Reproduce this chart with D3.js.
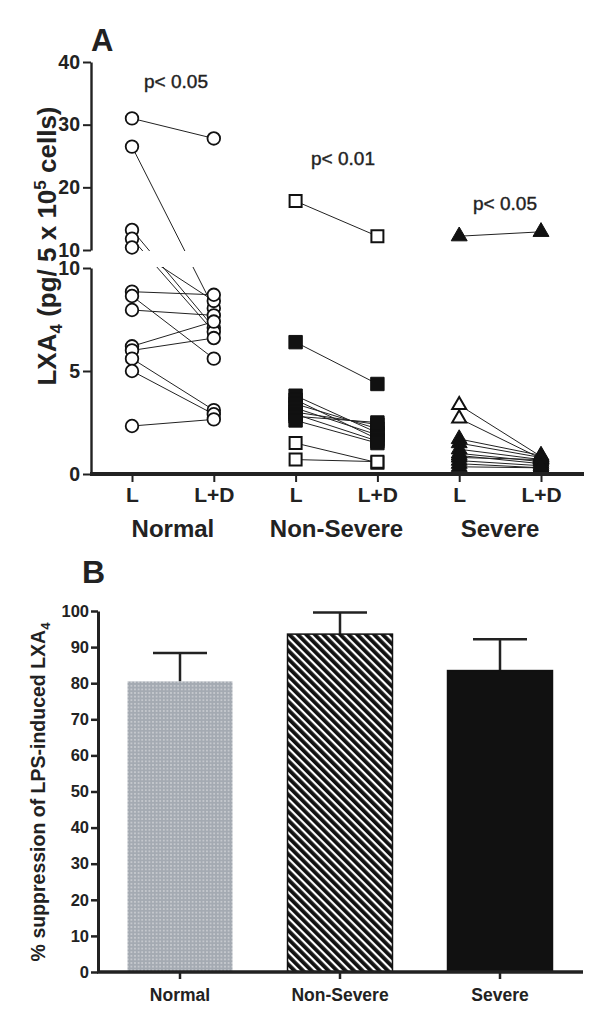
<!DOCTYPE html>
<html><head><meta charset="utf-8">
<script src="https://cdn.jsdelivr.net/npm/d3@7"></script>
<style>
html,body{margin:0;padding:0;background:#fff;}
svg{display:block;font-family:"Liberation Sans",Arial,sans-serif;}
</style></head>
<body>
<svg id="c" width="600" height="1017"></svg>
<script>
// ---------- DATA ----------
const groups = ["Normal", "Non-Severe", "Severe"];
const conditions = ["L", "L+D"];
const pValues = ["p< 0.05", "p< 0.01", "p< 0.05"];
const yTicksUpper = [10, 20, 30, 40];
const yTicksLower = [0, 5, 10];
// paired values (index i of L pairs with index i of L+D)
const normalL  = [31, 26.5, 13.2, 11.8, 10.4, 8.85, 8.64, 7.96, 6.2, 6.0, 5.6, 5.0, 2.33];
const normalLD = [27.8, 8.05, 7.1, 6.9, 8.4, 8.7, 5.6, 7.7, 7.4, 6.6, 3.1, 2.9, 2.65];
const nonSevereOpenL  = [17.8, 1.5, 0.7];
const nonSevereOpenLD = [12.2, 0.55, 0.6];
const nonSevereFilledL  = [6.4, 3.8, 3.6, 3.4, 3.2, 3.0, 2.9, 2.8, 2.6];
const nonSevereFilledLD = [4.37, 2.0, 1.7, 2.2, 1.9, 2.4, 1.6, 2.5, 1.5];
const severeOpenL  = [3.35, 2.7];
const severeOpenLD = [0.85, 0.75];
const severeFilledL  = [12.2, 1.7, 1.5, 1.2, 1.0, 0.9, 0.8, 0.65, 0.5, 0.35];
const severeFilledLD = [12.9, 0.9, 0.8, 0.7, 0.6, 0.5, 0.7, 0.4, 0.3, 0.3];
// panel B
const barMeans = [80.5, 93.6, 83.5];
const barUpper = [88.4, 99.6, 92.2];
const yTicksB = [0, 10, 20, 30, 40, 50, 60, 70, 80, 90, 100];

const svg = d3.select("#c");
const FONT = "Liberation Sans, Arial, sans-serif";

// ---------- PANEL A ----------
const slots = [];
groups.forEach(g => conditions.forEach(c => slots.push(g + "|" + c)));
const xA = d3.scalePoint().domain(slots).range([132, 541]);
const yUp = d3.scaleLinear().domain([10, 40]).range([250, 62]);
const yLo = d3.scaleLinear().domain([0, 10]).range([474, 268]);
const yA = v => v > 10 ? yUp(v) : yLo(v);

const gA = svg.append("g");

const series = [
  {g: "Normal", L: normalL, LD: normalLD, shape: "circle", fill: "#fff"},
  {g: "Non-Severe", L: nonSevereOpenL, LD: nonSevereOpenLD, shape: "square", fill: "#fff"},
  {g: "Non-Severe", L: nonSevereFilledL, LD: nonSevereFilledLD, shape: "square", fill: "#111"},
  {g: "Severe", L: severeOpenL, LD: severeOpenLD, shape: "triangle", fill: "#fff"},
  {g: "Severe", L: severeFilledL, LD: severeFilledLD, shape: "triangle", fill: "#111"}
];

// connecting lines
series.forEach(s => {
  const x1 = xA(s.g + "|L"), x2 = xA(s.g + "|L+D");
  gA.selectAll(null).data(s.L.map((v, i) => [v, s.LD[i]])).enter().append("line")
    .attr("x1", x1).attr("x2", x2)
    .attr("y1", d => yA(d[0])).attr("y2", d => yA(d[1]))
    .attr("stroke", "#222").attr("stroke-width", 1);
});
// axis break gap mask
gA.append("rect").attr("x", 92).attr("y", yUp(10) + 1).attr("width", 500)
  .attr("height", yLo(10) - yUp(10) - 2).attr("fill", "#fff");

// markers
series.forEach(s => {
  const pts = [];
  s.L.forEach(v => pts.push([xA(s.g + "|L"), yA(v)]));
  s.LD.forEach(v => pts.push([xA(s.g + "|L+D"), yA(v)]));
  if (s.shape === "circle") {
    gA.selectAll(null).data(pts).enter().append("circle")
      .attr("cx", d => d[0]).attr("cy", d => d[1]).attr("r", 6.3)
      .attr("fill", s.fill).attr("stroke", "#111").attr("stroke-width", 1.8);
  } else {
    const open = s.fill === "#fff";
    const sym = s.shape === "square"
      ? d3.symbol().type(d3.symbolSquare).size(open ? 144 : 180)
      : d3.symbol().type(d3.symbolTriangle).size(open ? 85 : 110);
    gA.selectAll(null).data(pts).enter().append("path")
      .attr("transform", d => `translate(${d[0]},${d[1]})`)
      .attr("d", sym())
      .attr("fill", s.fill).attr("stroke", "#111").attr("stroke-width", open ? 2 : 1);
  }
});

// axes A
function styleAxis(sel, fs) {
  sel.selectAll("text").attr("font-family", FONT).attr("font-weight", "bold")
    .attr("font-size", fs).attr("fill", "#222");
  sel.selectAll("line").attr("stroke", "#222").attr("stroke-width", 2);
  sel.select(".domain").attr("stroke", "#222").attr("stroke-width", 2.4);
}
const axUp = gA.append("g").attr("transform", "translate(91,0)")
  .call(d3.axisLeft(yUp).tickValues(yTicksUpper).tickSize(8).tickSizeOuter(0).tickPadding(3));
styleAxis(axUp, 19.5);
const axLo = gA.append("g").attr("transform", "translate(91,0)")
  .call(d3.axisLeft(yLo).tickValues(yTicksLower).tickSize(8).tickSizeOuter(0).tickPadding(3));
styleAxis(axLo, 19.5);

// x axis A
const axXA = gA.append("g").attr("transform", `translate(0,${yLo(0)})`)
  .call(d3.axisBottom(xA).tickSize(8).tickSizeOuter(0).tickPadding(5)
    .tickFormat(d => d.split("|")[1]));
axXA.select(".domain").attr("d", `M90,0H584`).attr("stroke", "#222").attr("stroke-width", 4);
axXA.selectAll("line").attr("stroke", "#222").attr("stroke-width", 2);
axXA.selectAll("text").attr("font-family", FONT).attr("font-weight", "bold")
  .attr("font-size", 21).attr("fill", "#222");

// group labels
groups.forEach((g, i) => {
  const cx = (xA(g + "|L") + xA(g + "|L+D")) / 2;
  gA.append("text").attr("x", cx).attr("y", 537).attr("text-anchor", "middle")
    .attr("font-family", FONT).attr("font-weight", "bold").attr("font-size", 24)
    .attr("fill", "#222").text(g);
});
// p-values
const pY = [88, 165, 210];
const pX = [176, 343, 505];
pValues.forEach((p, i) => {
  gA.append("text").attr("x", pX[i]).attr("y", pY[i]).attr("text-anchor", "middle")
    .attr("font-family", FONT).attr("font-size", 19).attr("fill", "#222")
    .attr("stroke", "#222").attr("stroke-width", 0.4).text(p);
});
// panel label A
svg.append("text").attr("x", 91).attr("y", 51).attr("font-family", FONT)
  .attr("font-weight", "bold").attr("font-size", 31).attr("fill", "#222").text("A");
// y label A
const ylA = svg.append("text").attr("transform", "translate(56,246) rotate(-90)")
  .attr("text-anchor", "middle").attr("font-family", FONT).attr("font-weight", "bold")
  .attr("font-size", 26).attr("fill", "#222");
ylA.append("tspan").text("LXA");
ylA.append("tspan").attr("font-size", 17).attr("dy", 6).text("4");
ylA.append("tspan").attr("dy", -6).text(" (pg/ 5 x 10");
ylA.append("tspan").attr("font-size", 17).attr("dy", -10).text("5");
ylA.append("tspan").attr("dy", 10).text(" cells)");

// ---------- PANEL B ----------
const gB = svg.append("g");
const xB = d3.scaleBand().domain(groups).range([100, 580]).paddingInner(0.344).paddingOuter(0.172);
const yB = d3.scaleLinear().domain([0, 100]).range([972, 611]);

const defs = svg.append("defs");
const dots = defs.append("pattern").attr("id", "dots").attr("patternUnits", "userSpaceOnUse")
  .attr("width", 3.6).attr("height", 3.6);
dots.append("rect").attr("width", 3.6).attr("height", 3.6).attr("fill", "#a4aab2");
dots.append("circle").attr("cx", 1.8).attr("cy", 1.8).attr("r", 0.7).attr("fill", "#f6f6f6");
const stripes = defs.append("pattern").attr("id", "stripes").attr("patternUnits", "userSpaceOnUse")
  .attr("width", 6).attr("height", 6).attr("patternTransform", "rotate(-45)");
stripes.append("rect").attr("width", 6).attr("height", 6).attr("fill", "#fff");
stripes.append("rect").attr("width", 3.8).attr("height", 6).attr("fill", "#111");

const fills = ["url(#dots)", "url(#stripes)", "#111"];
// error bars
gB.selectAll(null).data(groups).enter().append("line")
  .attr("x1", d => xB(d) + xB.bandwidth() / 2).attr("x2", d => xB(d) + xB.bandwidth() / 2)
  .attr("y1", (d, i) => yB(barMeans[i])).attr("y2", (d, i) => yB(barUpper[i]))
  .attr("stroke", "#222").attr("stroke-width", 2.5);
gB.selectAll(null).data(groups).enter().append("line")
  .attr("x1", d => xB(d) + xB.bandwidth() / 2 - 27).attr("x2", d => xB(d) + xB.bandwidth() / 2 + 27)
  .attr("y1", (d, i) => yB(barUpper[i])).attr("y2", (d, i) => yB(barUpper[i]))
  .attr("stroke", "#222").attr("stroke-width", 2.5);
// bars
gB.selectAll(null).data(groups).enter().append("rect")
  .attr("x", d => xB(d)).attr("width", xB.bandwidth())
  .attr("y", (d, i) => yB(barMeans[i])).attr("height", (d, i) => yB(0) - yB(barMeans[i]))
  .attr("fill", (d, i) => fills[i])
  .attr("stroke", (d, i) => i === 0 ? "none" : "#111").attr("stroke-width", 1.5);

// axes B
const axYB = gB.append("g").attr("transform", "translate(98,0)")
  .call(d3.axisLeft(yB).tickValues(yTicksB).tickSize(7).tickSizeOuter(0).tickPadding(2));
axYB.selectAll("text").attr("font-family", FONT).attr("font-weight", "bold")
  .attr("font-size", 16.5).attr("fill", "#222");
axYB.selectAll("line").attr("stroke", "#222").attr("stroke-width", 2.5);
axYB.select(".domain").attr("stroke", "#222").attr("stroke-width", 3);
const axXB = gB.append("g").attr("transform", `translate(0,${yB(0)})`)
  .call(d3.axisBottom(xB).tickSize(7).tickSizeOuter(0).tickPadding(10));
axXB.select(".domain").attr("d", "M97,0H583").attr("stroke", "#222").attr("stroke-width", 3.5);
axXB.selectAll("line").attr("stroke", "#222").attr("stroke-width", 2.5);
axXB.selectAll("text").attr("font-family", FONT).attr("font-weight", "bold")
  .attr("font-size", 17.5).attr("fill", "#222");

svg.append("text").attr("x", 82).attr("y", 583).attr("font-family", FONT)
  .attr("font-weight", "bold").attr("font-size", 32).attr("fill", "#222").text("B");
const ylB = svg.append("text").attr("transform", "translate(45,792) rotate(-90)")
  .attr("text-anchor", "middle").attr("font-family", FONT).attr("font-weight", "bold")
  .attr("font-size", 19.5).attr("fill", "#222");
ylB.append("tspan").text("% suppression of LPS-induced LXA");
ylB.append("tspan").attr("font-size", 13).attr("dy", 5).text("4");
</script>
</body></html>
